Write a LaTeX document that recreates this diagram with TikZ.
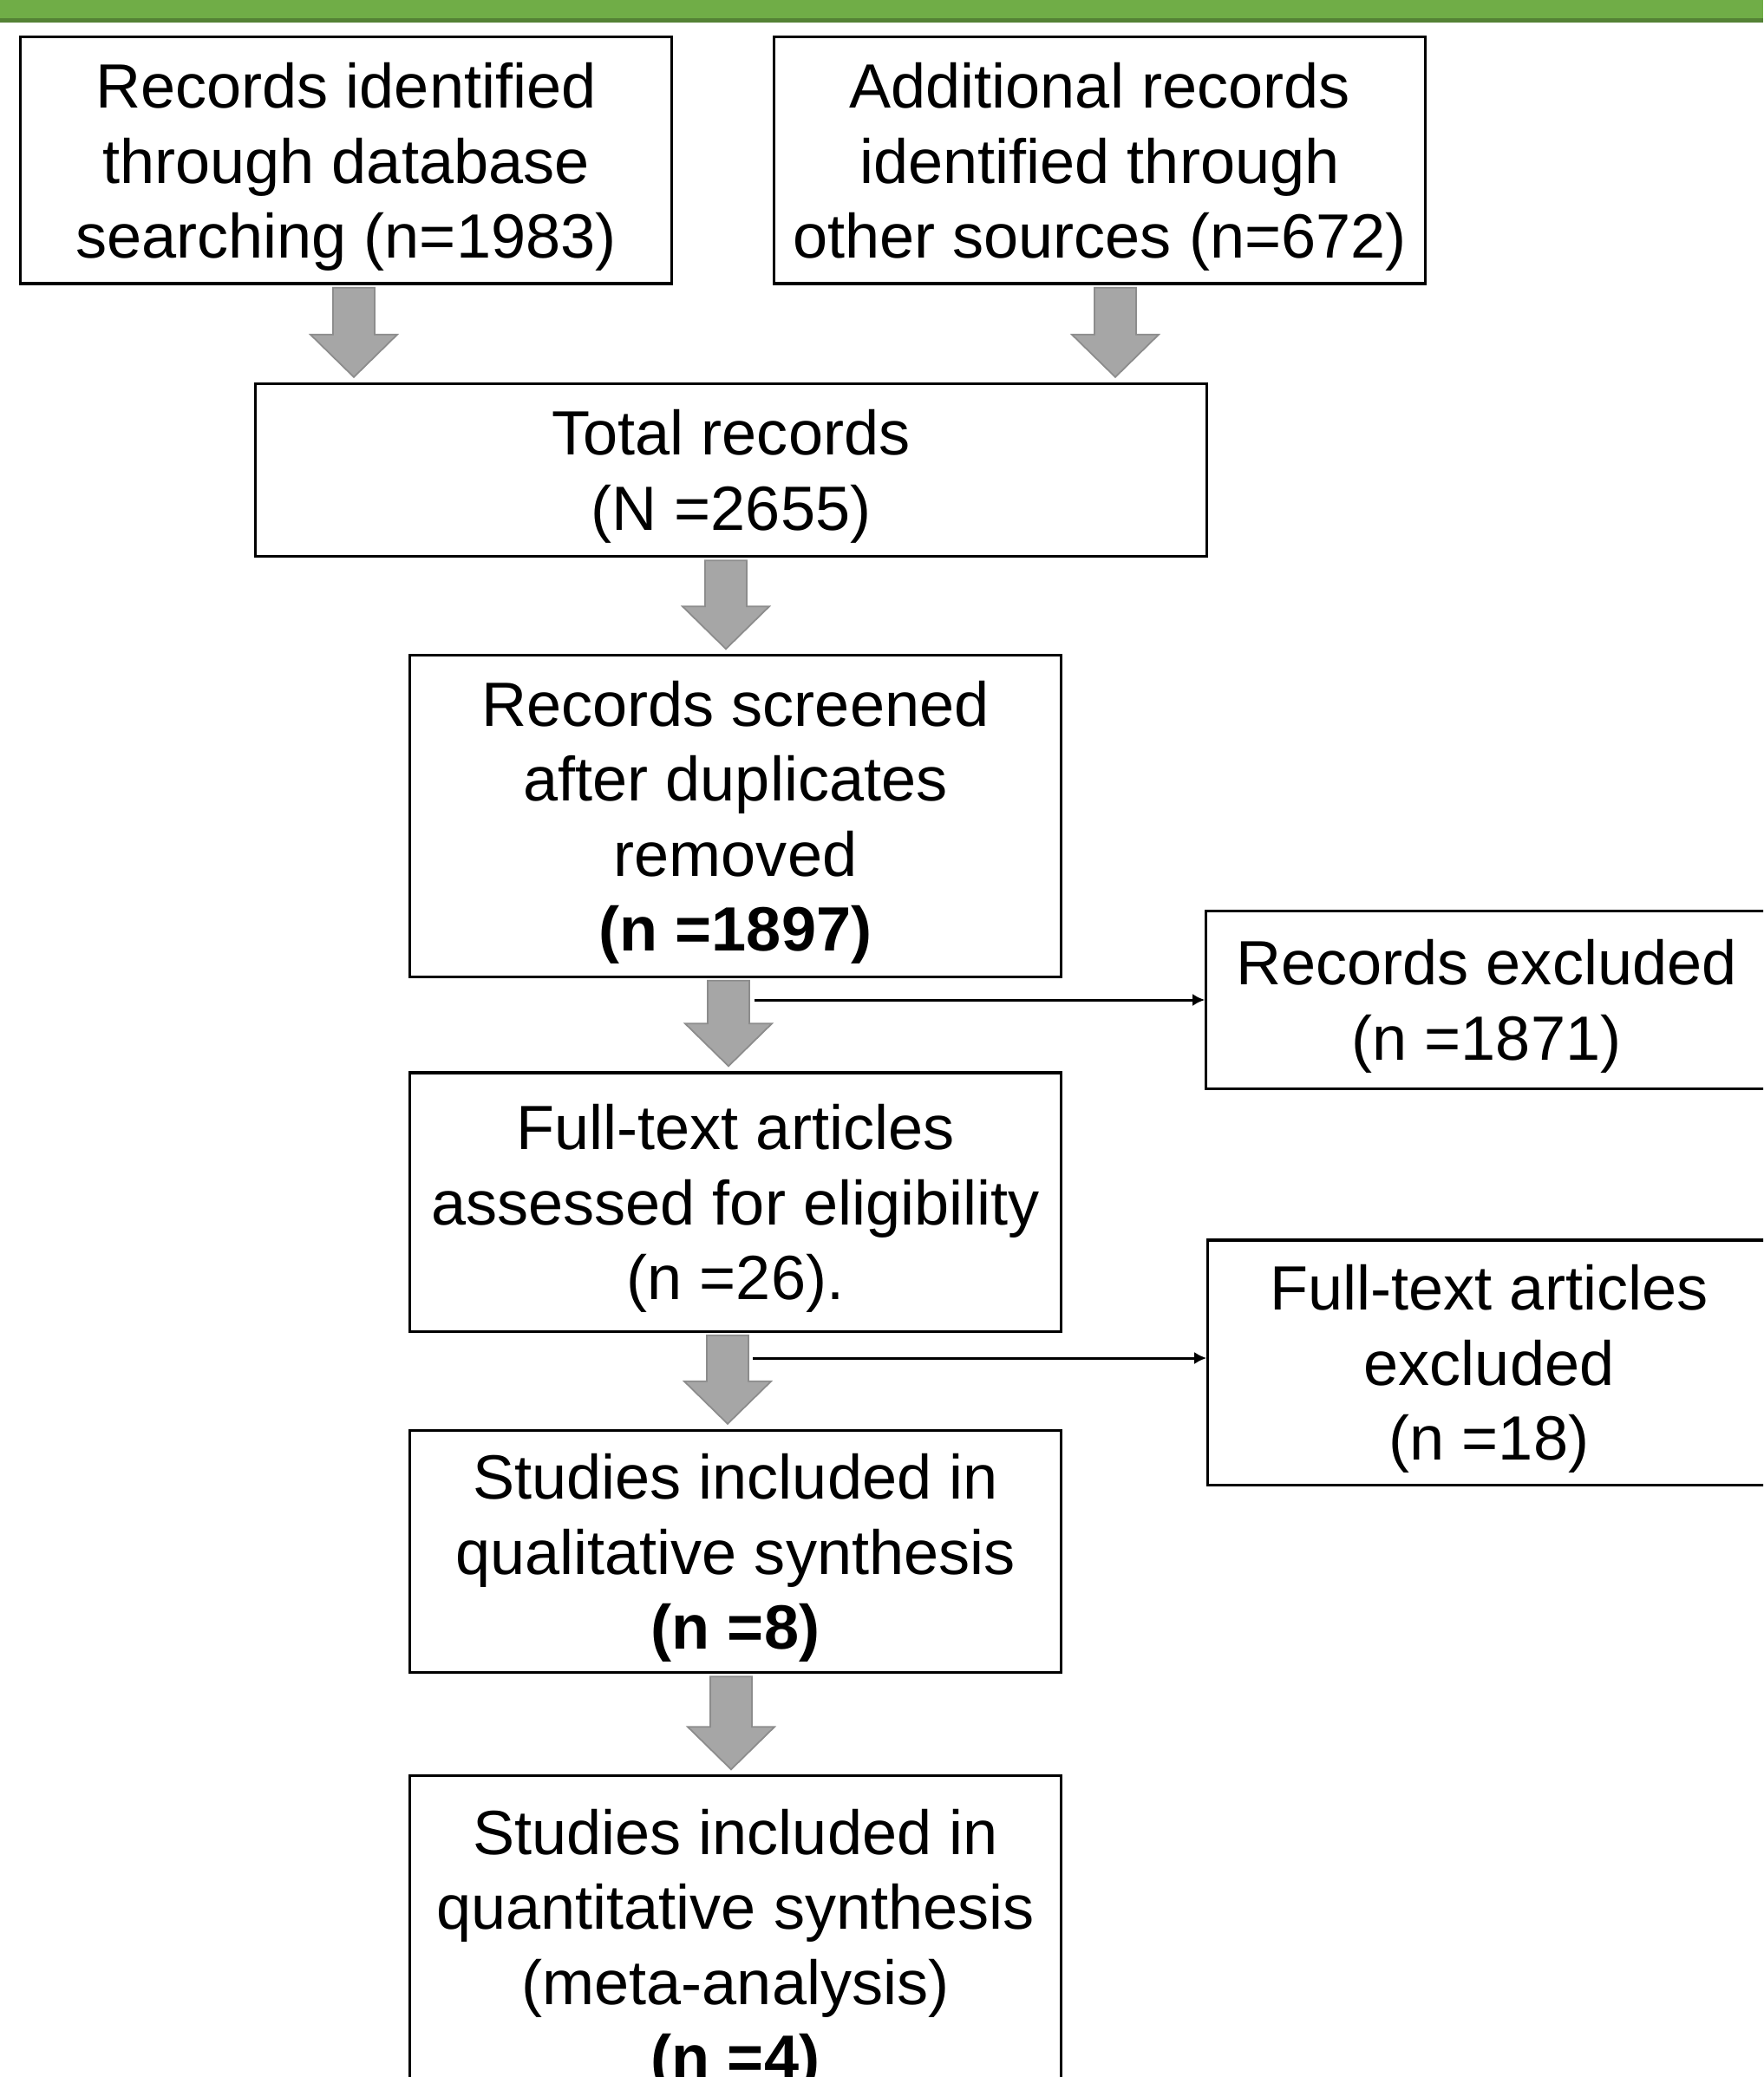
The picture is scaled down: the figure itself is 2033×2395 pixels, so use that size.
\documentclass[tikz,border=0pt]{standalone}
\usepackage{fontspec}
\setmainfont{Liberation Sans}
\usetikzlibrary{arrows.meta,calc}

\definecolor{barGreen}{HTML}{70AD47}
\definecolor{barDark}{HTML}{548235}
\definecolor{arrowFill}{HTML}{A6A6A6}
\definecolor{arrowEdge}{HTML}{8C8C8C}

\tikzset{
  box/.style={draw, line width=0.9pt, align=center, inner sep=0pt,
    font=\fontsize{20.5}{24.6}\selectfont, text depth=-0.14cm},
  colbox/.style={box, minimum width=7.5cm},
  blockarrow/.style={fill=arrowFill, draw=arrowEdge, line width=0.5pt},
  thinarrow/.style={line width=0.85pt, -{Latex[length=4pt,width=4pt]}}
}

% fat grey arrow: x position, upper node, lower node
\newcommand\fatarrow[3]{%
  \path[blockarrow] let \p3=(#1,0), \p1=(#2.south), \p2=(#3.north) in
    (\x3-0.24cm,\y1-0.03cm) -- (\x3+0.24cm,\y1-0.03cm) -- (\x3+0.24cm,\y2+0.55cm)
    -- (\x3+0.5cm,\y2+0.55cm) -- (\x3,\y2+0.06cm) -- (\x3-0.5cm,\y2+0.55cm)
    -- (\x3-0.24cm,\y2+0.55cm) -- cycle;}

\begin{document}
\begin{tikzpicture}[x=0.01cm, y=-0.01cm]
	\useasboundingbox (0,0) rectangle (2033,2395);
	\clip (0,0) rectangle (2033,2395);
	\fill[barGreen] (0,0) rectangle (2033,23);
	\fill[barDark] (0,21) rectangle (2033,26);

	% identification
	\node[colbox, minimum height=2.84cm] (dbase) at (399,185) {Records identified\\through database\\searching (n=1983)};
	\node[colbox, minimum height=2.84cm] (other) at (1268,185) {Additional records\\identified through\\other sources (n=672)};
	\node[box, minimum width=10.96cm, minimum height=1.99cm] (total) at (843,542) {Total records\\(N =2655)};

	% screening
	\node[colbox, minimum height=3.7cm] (screen) at (848,941) {Records screened\\after duplicates\\removed\\\textbf{(n =1897)}};
	\node[box, minimum width=6.46cm, minimum height=2.05cm] (excl) at (1714,1153) {Records excluded\\(n =1871)};

	% eligibility
	\node[colbox, minimum height=2.98cm] (fulltext) at (848,1386) {Full-text articles\\assessed for eligibility\\(n =26).};
	\node[box, minimum width=6.48cm, minimum height=2.82cm] (ftexcl) at (1717,1571) {Full-text articles\\excluded\\(n =18)};

	% included
	\node[colbox, minimum height=2.79cm] (qual) at (848,1789) {Studies included in\\qualitative synthesis\\\textbf{(n =8)}};
	\node[colbox, minimum height=3.88cm] (quant) at (848,2242) {Studies included in\\quantitative synthesis\\(meta-analysis)\\\textbf{(n =4)}};

	\fatarrow{408}{dbase}{total}
	\fatarrow{1286}{other}{total}
	\fatarrow{837}{total}{screen}
	\fatarrow{840}{screen}{fulltext}
	\fatarrow{839}{fulltext}{qual}
	\fatarrow{843}{qual}{quant}

	\coordinate (s1) at (870,1153);
	\draw[thinarrow] (s1) -- (s1 -| excl.west);
	\coordinate (s2) at (868,1566);
	\draw[thinarrow] (s2) -- (s2 -| ftexcl.west);
\end{tikzpicture}
\end{document}
